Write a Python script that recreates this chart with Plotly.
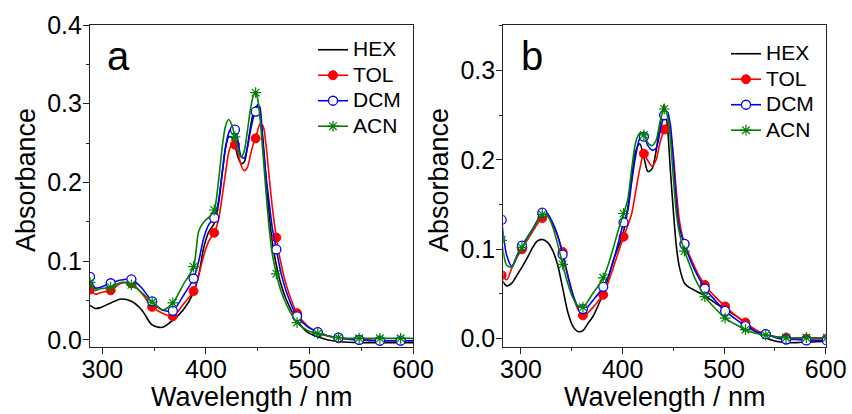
import plotly.graph_objects as go

# ---------------- data: panel a ----------------
WA = [288, 293, 298, 308, 318, 328, 338, 348, 358, 368, 378, 388, 393, 398, 403, 408,
      412, 416, 419, 422, 425, 428, 431, 434, 437, 440, 443, 446, 448, 450, 452, 455,
      458, 461, 464, 468, 472, 478, 488, 498, 508, 518, 528, 538, 548, 558, 568, 578,
      588, 600]
HEX_A = [0.044, 0.040, 0.041, 0.047, 0.052, 0.049, 0.038, 0.019, 0.016, 0.025, 0.038, 0.060,
         0.082, 0.118, 0.138, 0.148, 0.172, 0.215, 0.245, 0.258, 0.257, 0.247, 0.232, 0.224,
         0.226, 0.245, 0.270, 0.290, 0.296, 0.297, 0.288, 0.255, 0.205, 0.160, 0.125, 0.095,
         0.073, 0.050, 0.025, 0.010, 0.004, 0.000, -0.002, -0.003, -0.0035, -0.0035, -0.0035,
         -0.0035, -0.0035, -0.0035]
TOL_A = [0.064, 0.058, 0.060, 0.063, 0.072, 0.072, 0.059, 0.042, 0.034, 0.030, 0.045, 0.062,
         0.082, 0.108, 0.126, 0.136, 0.152, 0.185, 0.213, 0.238, 0.249, 0.248, 0.237, 0.222,
         0.215, 0.219, 0.235, 0.250, 0.256, 0.266, 0.274, 0.272, 0.248, 0.208, 0.170, 0.130,
         0.100, 0.068, 0.034, 0.018, 0.010, 0.005, 0.002, 0.001, 0.000, 0.000, -0.001,
         -0.001, -0.001, -0.001]
DCM_A = [0.080, 0.066, 0.067, 0.072, 0.076, 0.077, 0.066, 0.049, 0.038, 0.037, 0.056, 0.078,
         0.100, 0.130, 0.147, 0.155, 0.175, 0.215, 0.245, 0.263, 0.269, 0.267, 0.252, 0.233,
         0.231, 0.244, 0.266, 0.283, 0.290, 0.299, 0.296, 0.250, 0.208, 0.175, 0.143, 0.115,
         0.088, 0.060, 0.030, 0.017, 0.010, 0.005, 0.003, 0.001, 0.000, -0.001, -0.001,
         -0.001, -0.001, -0.001]
ACN_A = [0.073, 0.063, 0.065, 0.067, 0.073, 0.070, 0.060, 0.048, 0.038, 0.047, 0.070, 0.093,
         0.138, 0.150, 0.156, 0.165, 0.200, 0.248, 0.272, 0.280, 0.273, 0.258, 0.242, 0.232,
         0.240, 0.265, 0.293, 0.311, 0.314, 0.306, 0.285, 0.238, 0.188, 0.143, 0.110, 0.084,
         0.064, 0.044, 0.022, 0.012, 0.008, 0.005, 0.003, 0.002, 0.002, 0.002, 0.002,
         0.002, 0.002, 0.002]

# ---------------- data: panel b ----------------
WB = [281, 286, 291, 296, 301, 306, 311, 316, 321, 326, 331, 336, 341, 346, 351, 356, 361,
      366, 371, 376, 381, 386, 391, 396, 401, 405, 409, 413, 417, 421, 425, 429, 433, 437,
      441, 444, 447, 450, 453, 456, 461, 466, 471, 476, 481, 491, 501, 511, 521, 531, 541,
      551, 561, 571, 581, 591, 601]
HEX_B = [0.066, 0.059, 0.062, 0.071, 0.080, 0.090, 0.101, 0.109, 0.111, 0.108, 0.099, 0.083,
         0.057, 0.030, 0.014, 0.008, 0.009, 0.017, 0.025, 0.037, 0.051, 0.068, 0.088, 0.103,
         0.120, 0.145, 0.180, 0.210, 0.218, 0.203, 0.187, 0.190, 0.210, 0.240, 0.262, 0.240,
         0.190, 0.143, 0.103, 0.080, 0.062, 0.057, 0.054, 0.051, 0.048, 0.040, 0.033, 0.026,
         0.017, 0.008, 0.001, -0.003, -0.0045, -0.0045, -0.004, -0.0035, -0.003]
TOL_B = [0.071, 0.066, 0.079, 0.091, 0.100, 0.110, 0.119, 0.128, 0.135, 0.137, 0.129, 0.115,
         0.097, 0.071, 0.049, 0.033, 0.026, 0.029, 0.035, 0.042, 0.049, 0.063, 0.080, 0.097,
         0.114, 0.126, 0.140, 0.165, 0.190, 0.207, 0.199, 0.193, 0.200, 0.220, 0.234, 0.241,
         0.232, 0.205, 0.165, 0.132, 0.106, 0.093, 0.080, 0.069, 0.060, 0.047, 0.036, 0.026,
         0.018, 0.010, 0.005, 0.002, 0.001, 0.000, 0.000, 0.000, 0.000]
DCM_B = [0.133, 0.093, 0.081, 0.093, 0.104, 0.113, 0.122, 0.132, 0.141, 0.140, 0.130, 0.116,
         0.094, 0.071, 0.050, 0.036, 0.033, 0.036, 0.043, 0.050, 0.058, 0.070, 0.087, 0.108,
         0.130, 0.143, 0.175, 0.205, 0.224, 0.226, 0.216, 0.211, 0.213, 0.232, 0.250, 0.254,
         0.240, 0.200, 0.152, 0.124, 0.106, 0.090, 0.077, 0.066, 0.056, 0.043, 0.031, 0.022,
         0.014, 0.008, 0.005, 0.001, -0.001, -0.001, -0.002, -0.002, -0.002]
ACN_B = [0.110, 0.082, 0.080, 0.092, 0.102, 0.112, 0.121, 0.131, 0.139, 0.138, 0.126, 0.106,
         0.083, 0.062, 0.046, 0.037, 0.035, 0.042, 0.051, 0.059, 0.068, 0.083, 0.102, 0.122,
         0.140, 0.155, 0.190, 0.220, 0.230, 0.228, 0.219, 0.216, 0.222, 0.243, 0.257, 0.250,
         0.225, 0.180, 0.140, 0.118, 0.098, 0.083, 0.068, 0.057, 0.047, 0.034, 0.023, 0.016,
         0.010, 0.006, 0.004, 0.002, 0.001, 0.001, 0.001, 0.001, 0.001]

SERIES = ["HEX", "TOL", "DCM", "ACN"]
COLORS = {"HEX": "#000000", "TOL": "#FF0000", "DCM": "#0000FF", "ACN": "#008000"}
MARKERS = {
    "HEX": None,
    "TOL": dict(symbol="circle", size=9, color="#FF0000", line=dict(color="#FF0000", width=1)),
    "DCM": dict(symbol="circle", size=9, color="#FFFFFF", line=dict(color="#0000FF", width=1.3)),
    "ACN": dict(symbol="asterisk-open", size=9, color="#008000", line=dict(color="#008000", width=1.2)),
}

PANELS = [
    dict(w=WA, data={"HEX": HEX_A, "TOL": TOL_A, "DCM": DCM_A, "ACN": ACN_A},
         xa="x", ya="y", start=288, legend="legend"),
    dict(w=WB, data={"HEX": HEX_B, "TOL": TOL_B, "DCM": DCM_B, "ACN": ACN_B},
         xa="x2", ya="y2", start=281, legend="legend2"),
]

fig = go.Figure()
for p in PANELS:
    for s in SERIES:
        ys = p["data"][s]
        fig.add_trace(go.Scatter(x=p["w"], y=ys, mode="lines", xaxis=p["xa"], yaxis=p["ya"],
                                 line=dict(color=COLORS[s], width=1.6, shape="spline", smoothing=0.8),
                                 showlegend=False, hoverinfo="skip"))
        if MARKERS[s] is not None:
            mx = [w for w in p["w"] if (w - p["start"]) % 20 == 0]
            my = [y for w, y in zip(p["w"], ys) if (w - p["start"]) % 20 == 0]
            fig.add_trace(go.Scatter(x=mx, y=my, mode="markers", xaxis=p["xa"], yaxis=p["ya"],
                                     marker=MARKERS[s], showlegend=False, hoverinfo="skip"))
    # legend entries
    for s in SERIES:
        fig.add_trace(go.Scatter(x=[None], y=[None], xaxis=p["xa"], yaxis=p["ya"],
                                 mode="lines" if MARKERS[s] is None else "lines+markers",
                                 name='<span style="font-size:21px">%s</span>' % s,
                                 line=dict(color=COLORS[s], width=1.6),
                                 marker=MARKERS[s] if MARKERS[s] else None,
                                 legend=p["legend"]))

FONT = "Liberation Sans, Arial, sans-serif"
W, H = 852, 414

def xax(domain, rng, anchor):
    return dict(domain=domain, range=rng, anchor=anchor, showgrid=False, zeroline=False,
                showline=True, linecolor="#222", linewidth=1.2, mirror=True,
                ticks="outside", ticklen=6, tickwidth=1.2, tickcolor="#222",
                dtick=100, tick0=0, ticklabelstandoff=-6,
                minor=dict(ticks="outside", ticklen=3, dtick=50, tickcolor="#222", tickwidth=1.2),
                tickfont=dict(family=FONT, size=25, color="black"))

def yax(domain, rng, anchor):
    return dict(domain=domain, range=rng, anchor=anchor, showgrid=False, zeroline=False,
                showline=True, linecolor="#222", linewidth=1.2, mirror=True,
                ticks="outside", ticklen=6, tickwidth=1.2, tickcolor="#222",
                dtick=0.1, tick0=0, tickformat=".1f", ticklabelstandoff=-4,
                minor=dict(ticks="outside", ticklen=3, dtick=0.05, tickcolor="#222", tickwidth=1.2),
                tickfont=dict(family=FONT, size=25, color="black"))

def top_ax(over, anchor, rng):
    return dict(overlaying=over, anchor=anchor, side="top", range=rng, showticklabels=False,
                ticks="inside", ticklen=6, tickwidth=1.2, tickcolor="#222", dtick=100, tick0=0,
                showgrid=False, zeroline=False, showline=False,
                minor=dict(ticks="inside", ticklen=3, dtick=50, tickcolor="#222", tickwidth=1.2))

def ytitle(xpx):
    return dict(text="Absorbance", x=xpx / W, y=1 - 180 / H, xref="paper", yref="paper",
                xanchor="center", yanchor="middle", textangle=-90, showarrow=False,
                font=dict(family=FONT, size=27, color="black"))

def xtitle(xpx):
    return dict(text="Wavelength / nm", x=xpx / W, y=1 - 396.5 / H, xref="paper", yref="paper",
                xanchor="center", yanchor="middle", showarrow=False,
                font=dict(family=FONT, size=27, color="black"))

def letter(t, xpx):
    return dict(text=t, x=xpx / W, y=1 - 80 / H, xref="paper", yref="paper", xanchor="left",
                yanchor="bottom", showarrow=False, font=dict(family=FONT, size=40, color="black"))

ydom = [1 - 347 / H, 1 - 25 / H]
legfont = dict(family=FONT, size=17.3, color="black")
fig.update_layout(
    width=W, height=H, margin=dict(l=0, r=0, t=0, b=0, autoexpand=False),
    paper_bgcolor="white", plot_bgcolor="white",
    xaxis=xax([90 / W, 413 / W], [288, 600], "y"),
    yaxis=yax(ydom, [-0.009, 0.4], "x"),
    xaxis2=xax([503.3 / W, 825.7 / W], [282.6, 600], "y2"),
    yaxis2=yax(ydom, [-0.0094, 0.351], "x2"),
    xaxis3=top_ax("x", "y", [288, 600]),
    xaxis4=top_ax("x2", "y2", [282.6, 600]),
    legend=dict(x=313 / W, y=1 - 32 / H, xanchor="left", yanchor="top",
                bgcolor="rgba(0,0,0,0)", font=legfont, tracegroupgap=0),
    legend2=dict(x=726 / W, y=1 - 36 / H, xanchor="left", yanchor="top",
                 bgcolor="rgba(0,0,0,0)", font=legfont, tracegroupgap=0),
    annotations=[ytitle(26), ytitle(439), xtitle(251.5), xtitle(664.5),
                 letter("a", 105), letter("b", 519)],
)

fig.write_html("out.html")
